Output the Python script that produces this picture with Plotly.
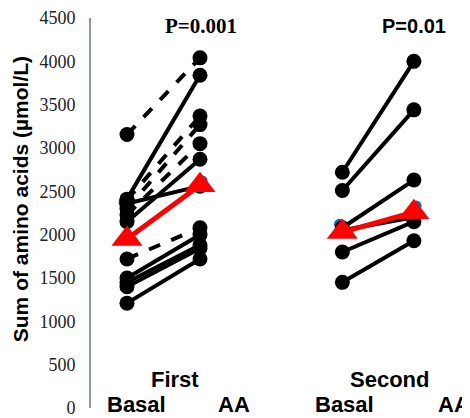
import plotly.graph_objects as go

# ---- data ----
groups = ["First", "Second"]
conditions = ["Basal", "AA"]
p_values = ["P=0.001", "P=0.01"]
y_ticks = [0, 500, 1000, 1500, 2000, 2500, 3000, 3500, 4000, 4500]

first_basal = [3155, 2410, 2400, 2300, 2230, 2150, 2360, 1720, 1500, 1450, 1400, 1210]
first_aa = [4040, 3840, 3370, 3270, 3050, 2870, 2560, 2080, 2000, 1880, 1840, 1720]
first_dashed = [True, False, True, True, True, False, False, True, False, False, False, False]

second_basal = [2720, 2510, 2080, 2050, 1800, 1450]
second_aa = [4000, 3440, 2630, 2200, 2150, 1930]
second_dashed = [False, False, False, False, False, False]

mean_basal = [1950, 2030]
mean_aa = [2570, 2260]
blue_basal = [2370, 2120]
blue_aa = [2620, 2330]

# ---- layout constants (page body has an 8px margin) ----
OFF = 8
PAGE_W, PAGE_H = 470, 418
W, H = PAGE_W - OFF, PAGE_H - OFF
AX_X = 91              # axis x in page pixels
Y_TOP, Y_BOT = 14, 410  # page pixels for 4500 and 0
L = AX_X - OFF
T = Y_TOP - OFF
B = H - (Y_BOT - OFF)
R = 0
xpos = {("First", "Basal"): 1.0, ("First", "AA"): 2.0,
        ("Second", "Basal"): 3.95, ("Second", "AA"): 4.93}
px_per_unit = 73.0
x_lo = 1.0 - (127 - AX_X) / px_per_unit
x_hi = x_lo + (W - L - R) / px_per_unit

fig = go.Figure()

for gi, g in enumerate(groups):
    fig.add_trace(go.Scatter(
        x=[xpos[(g, "Basal")] - 0.04, xpos[(g, "AA")] + 0.03],
        y=[blue_basal[gi], blue_aa[gi]],
        mode="markers", marker=dict(color="#1f5fbf", size=11),
        hoverinfo="skip"))

def add_subjects(group, basal, aa, dashed):
    for b, a, d in zip(basal, aa, dashed):
        fig.add_trace(go.Scatter(
            x=[xpos[(group, "Basal")], xpos[(group, "AA")]],
            y=[b, a],
            mode="lines+markers",
            line=dict(color="black", width=4, dash="dash" if d else "solid"),
            marker=dict(color="black", size=15),
        ))

add_subjects("First", first_basal, first_aa, first_dashed)
add_subjects("Second", second_basal, second_aa, second_dashed)

for gi, g in enumerate(groups):
    fig.add_trace(go.Scatter(
        x=[xpos[(g, "Basal")], xpos[(g, "AA")]],
        y=[mean_basal[gi], mean_aa[gi]],
        mode="lines+markers",
        line=dict(color="#ff0000", width=5),
        marker=dict(color="#ff0000", size=27, symbol="triangle-up"),
    ))

def px_x(p):
    return (p - OFF - L) / (W - L - R)

def px_y(p):
    return (H - B - (p - OFF)) / (H - T - B)

ann = []
sans_bold = dict(family="Liberation Sans", size=22, color="black")
for g, cx in zip(groups, [175, 389]):
    ann.append(dict(text="<b>%s</b>" % g, x=px_x(cx), y=px_y(381), xref="paper", yref="paper",
                    showarrow=False, xanchor="center", yanchor="middle", font=sans_bold))
for lbl, cx in zip(conditions * 2, [136, 234, 344, 454]):
    ann.append(dict(text="<b>%s</b>" % lbl, x=px_x(cx), y=px_y(406), xref="paper", yref="paper",
                    showarrow=False, xanchor="center", yanchor="middle", font=sans_bold))
ann.append(dict(text="<b>%s</b>" % p_values[0], x=px_x(201), y=px_y(22), xref="paper", yref="paper",
                showarrow=False, xanchor="center", yanchor="middle",
                font=dict(family="Liberation Serif", size=21, color="black")))
ann.append(dict(text="<b>%s</b>" % p_values[1], x=px_x(414), y=px_y(22), xref="paper", yref="paper",
                showarrow=False, xanchor="center", yanchor="middle",
                font=dict(family="Liberation Sans", size=20, color="black")))
ann.append(dict(text="<b>Sum of amino acids (µmol/L)</b>", x=px_x(20), y=px_y(198),
                xref="paper", yref="paper", showarrow=False, textangle=-90,
                xanchor="center", yanchor="middle",
                font=dict(family="Liberation Sans", size=21, color="black")))

fig.update_layout(
    width=W, height=H,
    margin=dict(l=L, r=R, t=T, b=B, pad=0),
    paper_bgcolor="white", plot_bgcolor="white",
    showlegend=False,
    xaxis=dict(range=[x_lo, x_hi], visible=False),
    yaxis=dict(range=[0, 4500], tickvals=y_ticks, ticktext=[str(v) for v in y_ticks],
               showgrid=False, zeroline=False, showline=True,
               linecolor="#8a9a9c", linewidth=2, ticks="",
               ticklabelstandoff=10, ticklabeloverflow="allow",
               tickfont=dict(family="Liberation Serif", size=18, color="#222")),
    annotations=ann,
)

fig.write_html("out.html")
